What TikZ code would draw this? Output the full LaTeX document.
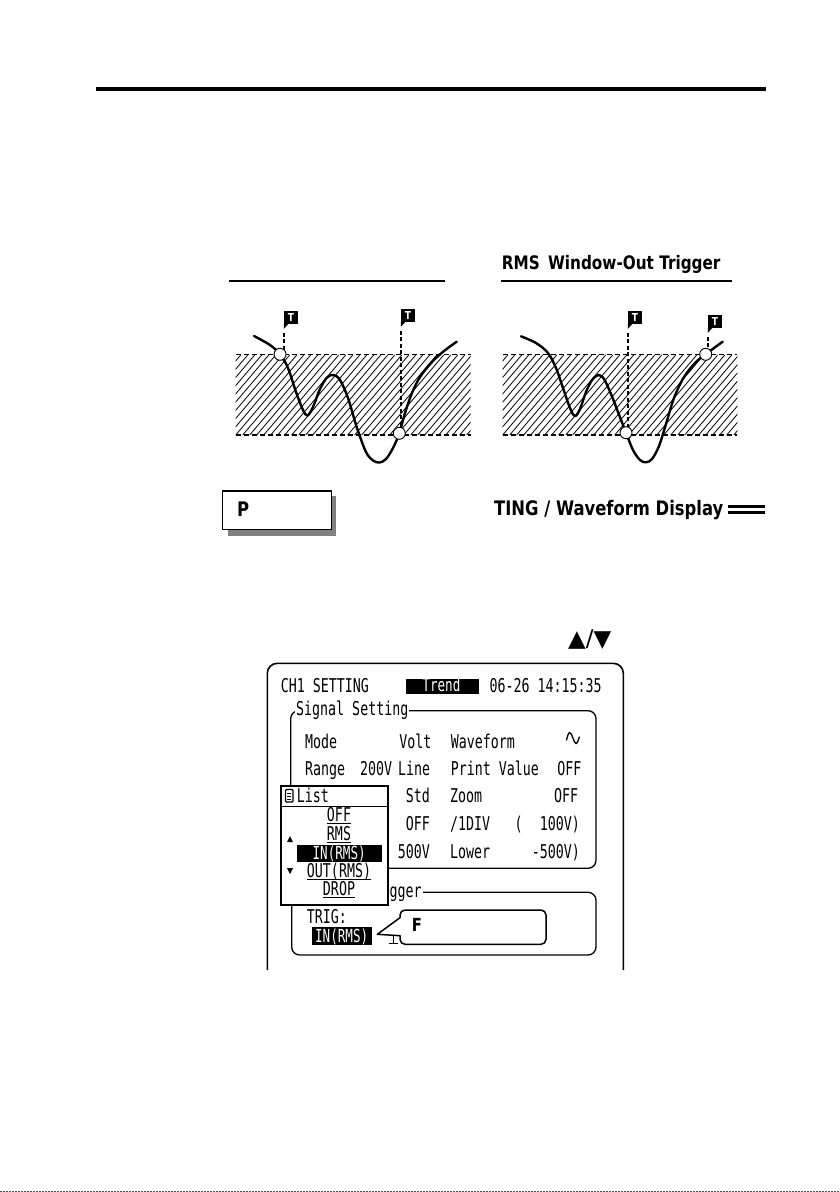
\documentclass[tikz,border=0pt]{standalone}
\usepackage{fontspec}
\newfontfamily\lcdfont[FakeStretch=0.7]{DejaVu Sans Mono}
\newfontfamily\hdrfont[FakeStretch=0.82]{DejaVu Sans Bold}
\newfontfamily\symfont{DejaVu Sans}
\definecolor{shadowgray}{HTML}{808080}
\tikzset{
  lcd/.style={font=\lcdfont\fontsize{19}{19}\selectfont, inner sep=0pt, anchor=base west},
  lcdr/.style={lcd, anchor=base east},
  lcdc/.style={lcd, anchor=base},
  invbox/.style={fill=black, draw=none, inner sep=0pt, anchor=north west},
  invtext/.style={lcd, anchor=base, text=white, font=\lcdfont\fontsize{18}{18}\selectfont},
  hdr/.style={font=\hdrfont\fontsize{19.5}{20}\selectfont, inner sep=0pt, anchor=base west},
  wave/.style={line width=2.4pt, line cap=round, line join=round},
  trigline/.style={line width=1.4pt, dash pattern=on 4pt off 2.5pt},
  bandedge/.style={line width=1.2pt, dash pattern=on 5pt off 3pt},
  hatchline/.style={line width=0.8pt},
  hitpt/.style={circle, draw, fill=white, minimum size=12pt, inner sep=0pt, line width=0.9pt},
  tflag/.style={fill=black, text=white, font=\hdrfont\fontsize{11}{11}\selectfont, inner sep=0pt, minimum width=14pt, minimum height=12.5pt},
  frameline/.style={line width=1.6pt},
  grp/.style={line width=1.3pt, rounded corners=8pt},
  ulinestyle/.style={line width=1.2pt},
}
\begin{document}
\begin{tikzpicture}[x=1pt,y=-1pt]
\useasboundingbox (0,0) rectangle (840,1192);
\fill[white] (0,0) rectangle (840,1192);

% top rule
\draw[line width=4pt] (96,89) -- (766,89);

% headings
\draw[line width=2.2pt] (229,281) -- (445,281);
\draw[line width=2.2pt] (501,281) -- (732,281);
\node[hdr, font=\hdrfont\fontsize{18.6}{19}\selectfont] (rmshead) at (501.7,269.3) {RMS\hspace{3pt} Window-Out Trigger};

% ---------- left panel ----------
\begin{scope}
\clip (235.7,354.7) rectangle (470.7,435);
\foreach \i in {-12,...,36} \draw[hatchline] ({235.7+\i*7},435) -- ++(68,-80);
\end{scope}
\draw[bandedge] (235.7,354.7) -- (470.7,354.7);
\draw[bandedge] (235.7,435) -- (470.7,435);

\node[tflag] (tL1) at (291,317.5) {T};
\node[tflag] (tL2) at (408,315.5) {T};
\fill (tL1.south west) -- ++(4.5,0) -- ++(-4.5,5) -- cycle;
\fill (tL2.south west) -- ++(4.5,0) -- ++(-4.5,5) -- cycle;

\coordinate (cL1p) at (280,354.3);
\coordinate (cL2p) at (399.3,433.3);
\draw[trigline] ([yshift=-9pt]tL1.south west) -- (tL1.south west |- cL1p);
\draw[trigline] ([yshift=-9pt]tL2.south west) -- (tL2.south west |- cL2p);

\draw[wave] plot[smooth, tension=0.55] coordinates {
 (254,336) (270,345) (280,354.3) (288,368) (296,392) (303,410) (307.5,415.5)
 (313,407) (320,389) (327,377.5) (333.5,375) (340,380) (348,398) (357,428)
 (366,452) (373,460.5) (379.5,462.5) (386,459) (393,448) (399.3,433.3)
 (405,413) (412,393) (420,377) (432,362) (444,351) (456.7,341.7)};

\node[hitpt] (cL1) at (cL1p) {};
\node[hitpt] (cL2) at (cL2p) {};

% ---------- right panel ----------
\begin{scope}
\clip (502.7,354.7) rectangle (737.3,435);
\foreach \i in {-12,...,36} \draw[hatchline] ({502.7+\i*7},435) -- ++(68,-80);
\end{scope}
\draw[bandedge] (502.7,354.7) -- (737.3,354.7);
\draw[bandedge] (502.7,435) -- (737.3,435);

\node[tflag] (tR1) at (635,317.5) {T};
\node[tflag] (tR2) at (715,321.5) {T};
\fill (tR1.south west) -- ++(4.5,0) -- ++(-4.5,5) -- cycle;
\fill (tR2.south west) -- ++(4.5,0) -- ++(-4.5,5) -- cycle;

\coordinate (cR1p) at (626,432.7);
\coordinate (cR2p) at (705.7,354.3);
\draw[trigline] ([yshift=-9pt]tR1.south west) -- (tR1.south west |- cR1p);
\draw[trigline] ([yshift=-9pt]tR2.south west) -- (tR2.south west |- cR2p);

\draw[wave] plot[smooth, tension=0.55] coordinates {
 (521,336.3) (536,343) (548,353) (556,368) (563,388) (570,408) (575,416)
 (580,409) (586,392) (592,380) (598.3,375) (604,379) (611,394) (618,412)
 (626,432.7) (633,450) (640,460) (646,462.3) (652,459) (659,446) (666,424)
 (674,398) (684,377) (696,362) (705.7,354.3) (714,348) (722.7,341.7)};

\node[hitpt] (cR1) at (cR1p) {};
\node[hitpt] (cR2) at (cR2p) {};

% ---------- P box and section heading ----------
\fill[shadowgray] (228,496) rectangle (336.2,535.5);
\node[draw, fill=white, line width=1.2pt, minimum width=108.4pt, minimum height=38.8pt,
      inner sep=0pt, anchor=north west] (pbox) at (222.2,490.4) {};
\node[hdr, font=\hdrfont\fontsize{20}{20}\selectfont] (ptext) at (237,516) {P};

\node[hdr, font=\hdrfont\fontsize{20}{20}\selectfont] (sechead) at (494,515) {TING / Waveform Display};
\draw[line width=2.5pt] (727.8,506.7) -- (764.8,506.7);
\draw[line width=2.5pt] (727.8,512.6) -- (764.8,512.6);

% arrows keys
\node[font=\symfont\fontsize{23}{23}\selectfont, inner sep=0pt] (keys) at (589.7,639.3) {▲/▼};

% ---------- screen ----------
\draw[frameline, rounded corners=10pt] (267.3,970) -- (267.3,663.3) -- (623.3,663.3) -- (623.3,970);

\node[lcd] (ch1) at (280.7,692) {CH1 SETTING};
\node[invbox, minimum width=73.3pt, minimum height=15pt] (trendbox) at (405.7,678.5) {};
\node[invtext] (trend) at (441.4,691.5) {Trend};
\node[lcd] (clock) at (489.3,692) {06-26 14:15:35};

% signal setting group
\draw[grp] (290.7,710.7) rectangle (596,868.3);
\node[lcd, fill=white, inner sep=1pt] (sig) at (295,715) {Signal Setting};

\node[lcd] (mode) at (305,748) {Mode};
\node[lcdr] (volt) at (431.7,748) {Volt};
\node[lcd] (wavef) at (450.7,748) {Waveform};
\draw[line width=1.3pt, line cap=round] (566.5,740) sin (569.7,732.5) cos (572.9,738) sin (576.1,743.5) cos (579.3,737);

\node[lcd] (range) at (305,775) {Range};
\node[lcd] (r200) at (360,775) {200V};
\node[lcd] (line) at (398,775) {Line};
\node[lcd] (pval) at (450.7,775) {Print Value};
\node[lcdr] (poff) at (581.7,775) {OFF};

\node[lcdr] (std) at (430,802.5) {Std};
\node[lcd] (zoom) at (450,802.5) {Zoom};
\node[lcdr] (zoff) at (578.3,802.5) {OFF};

\node[lcdr] (foff) at (430,830.5) {OFF};
\node[lcd] (div) at (450,830.5) {/1DIV};
\node[lcd] (lpar) at (514.3,830.5) {(};
\node[lcdr] (v100) at (580,830.5) {100V)};

\node[lcdr] (v500) at (430,858) {500V};
\node[lcd] (lower) at (450,858) {Lower};
\node[lcdr] (vm500) at (580,858) {-500V)};

% trigger group
\draw[grp] (291.7,892.3) rectangle (596,955);
\node[lcd, fill=white, inner sep=1pt] (trg) at (388.3,897) {gger};
\node[lcd] (trig) at (306.7,923.5) {TRIG:};
\node[invbox, minimum width=60pt, minimum height=18.3pt] (trigbox) at (311.7,926.7) {};
\node[invtext] (trigval) at (341.7,942) {IN(RMS)};

% cursor glyph
\draw[line width=1.2pt] (393.3,934.5) -- (393.3,943.3);
\draw[line width=1.2pt] (388.5,943.3) -- (398,943.3);

% callout
\draw[line width=1.5pt, fill=white, line join=round] (400,917.7) [rounded corners=5pt] -- (400,910) -- (546,910) -- (546,944.3) -- (400,944.3) [sharp corners] -- (400,935.7) -- (377.3,934.3) -- cycle;
\node[hdr, font=\hdrfont\fontsize{18}{18}\selectfont] (ftext) at (411.7,931.7) {F};

% list popup
\node[draw, fill=white, line width=2pt, minimum width=106.7pt, minimum height=119pt,
      inner sep=0pt, anchor=north west] (listbox) at (280,785) {};
\draw[line width=1.2pt] (280,806.5) -- (386.7,806.5);
\draw[line width=1.1pt, rounded corners=1pt] (285.5,789.5) rectangle (293,802);
\foreach \yy in {793,796,799} \draw[line width=0.9pt] (287.3,\yy) -- (291.2,\yy);
\node[lcd] (listtitle) at (296.7,802) {List};

\node[lcdc] (iOFF) at (339,821) {OFF};
\node[lcdc] (iRMS) at (339,840) {RMS};
\node[invbox, minimum width=85pt, minimum height=17pt] (iINbox) at (296.7,845) {};
\node[invtext] (iIN) at (339.2,859.5) {IN(RMS)};
\node[lcdc] (iOUT) at (339,877.5) {OUT(RMS)};
\node[lcdc] (iDROP) at (339,895) {DROP};
\foreach \n in {iOFF,iRMS,iOUT,iDROP}
  \draw[ulinestyle] ([yshift=-2.3pt]\n.base west) -- ([yshift=-2.3pt]\n.base east);

\fill (287,842) -- (293,842) -- (290,836) -- cycle;
\fill (287,868) -- (293,868) -- (290,874) -- cycle;

% bottom edge
\draw[line width=1pt, dash pattern=on 2pt off 1pt, black!70] (0,1191) -- (840,1191);
\end{tikzpicture}
\end{document}
